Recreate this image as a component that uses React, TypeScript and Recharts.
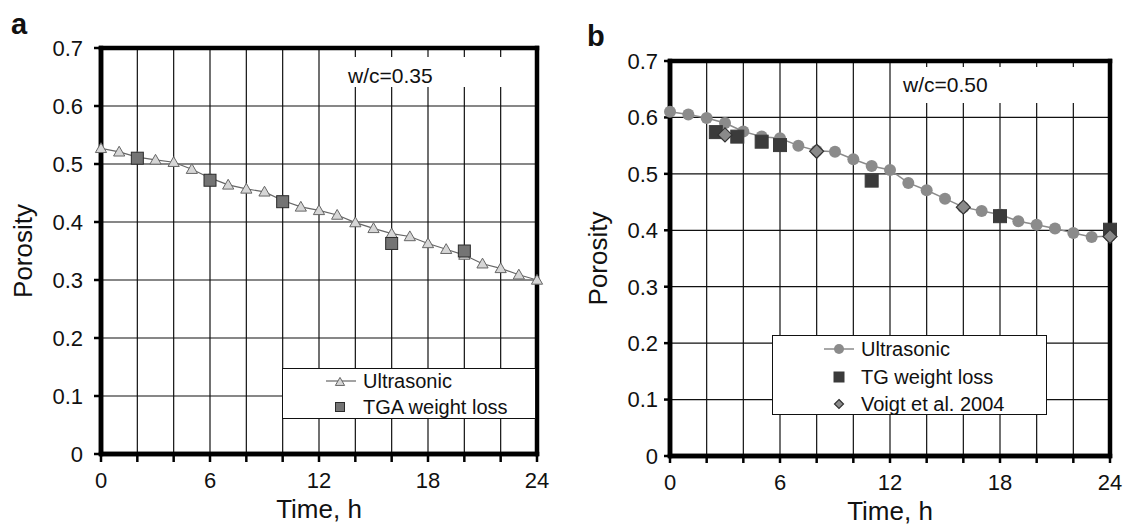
import React from "react";
import {
  CartesianGrid,
  Legend,
  ReferenceLine,
  Scatter,
  ScatterChart,
  XAxis,
  YAxis,
} from "recharts";

const FONT = '"Liberation Sans", Arial, Helvetica, sans-serif';

// ---- data ----
const hours = [0, 1, 2, 3, 4, 5, 6, 7, 8, 9, 10, 11, 12, 13, 14, 15, 16, 17, 18, 19, 20, 21, 22, 23, 24];

// panel a, w/c = 0.35
const ultrasonicA = [
  0.527, 0.521, 0.512, 0.507, 0.503, 0.491, 0.476, 0.464, 0.457, 0.452, 0.437, 0.426, 0.42,
  0.412, 0.399, 0.389, 0.38, 0.375, 0.363, 0.353, 0.343, 0.328, 0.32, 0.309, 0.3,
];
const tgaTimesA = [2, 6, 10, 16, 20];
const tgaValuesA = [0.51, 0.472, 0.435, 0.363, 0.35];

// panel b, w/c = 0.50
const ultrasonicB = [
  0.61, 0.605, 0.599, 0.59, 0.575, 0.566, 0.563, 0.55, 0.541, 0.539, 0.526, 0.514, 0.507,
  0.484, 0.471, 0.456, 0.441, 0.434, 0.428, 0.416, 0.41, 0.403, 0.395, 0.388, 0.39,
];
const tgTimesB = [2.5, 3.67, 5, 6, 11, 18, 24];
const tgValuesB = [0.574, 0.566, 0.557, 0.551, 0.488, 0.425, 0.401];
const voigtTimesB = [3, 8, 16, 24];
const voigtValuesB = [0.569, 0.54, 0.441, 0.389];

const xTicks = [0, 2, 4, 6, 8, 10, 12, 14, 16, 18, 20, 22, 24];
const yTicks = [0, 0.1, 0.2, 0.3, 0.4, 0.5, 0.6, 0.7];

const toPoints = (xs: number[], ys: number[]) => xs.map((t, i) => ({ t, p: ys[i] }));

// ---- marker shapes ----
const TriangleDot = ({ cx, cy, s = 5.6 }: any) => (
  <polygon
    points={`${cx},${cy - s} ${cx + s},${cy + s * 0.75} ${cx - s},${cy + s * 0.75}`}
    fill="#d6d6d6"
    stroke="#666"
    strokeWidth={1}
  />
);
const SquareDot = ({ cx, cy, s = 12, fill = "#747474", stroke = "#2b2b2b" }: any) => (
  <rect x={cx - s / 2} y={cy - s / 2} width={s} height={s} fill={fill} stroke={stroke} strokeWidth={1} />
);
const CircleDot = ({ cx, cy, r = 6 }: any) => <circle cx={cx} cy={cy} r={r} fill="#8b8b8b" />;
const DiamondDot = ({ cx, cy, s = 7 }: any) => (
  <polygon
    points={`${cx},${cy - s} ${cx + s},${cy} ${cx},${cy + s} ${cx - s},${cy}`}
    fill="#8a8a8a"
    stroke="#333"
    strokeWidth={1.2}
  />
);

const tickStyle = { fontSize: 22, fill: "#111", fontFamily: FONT };
const yFmt = (v: number) => (v === 0 ? "0" : v.toFixed(1));
const xFmt = (v: number) => (v % 6 === 0 ? String(v) : "");
const BORDER = 4.5;

function LegendA() {
  const row = (top: number, icon: React.ReactNode, text: string) => (
    <div style={{ position: "absolute", left: 0, top: top - 10, height: 20, width: "100%" }}>
      <svg width={40} height={20} style={{ position: "absolute", left: 38, top: 0 }}>
        {icon}
      </svg>
      <div style={{ position: "absolute", left: 80, top: 0, lineHeight: "20px", fontSize: 20, whiteSpace: "nowrap" }}>
        {text}
      </div>
    </div>
  );
  return (
    <div
      style={{
        position: "relative",
        width: 254,
        height: 51,
        border: "1.5px solid #111",
        background: "#fff",
        boxSizing: "border-box",
        fontFamily: FONT,
        color: "#111",
      }}
    >
      {row(
        12,
        <g>
          <line x1={5} y1={10} x2={35} y2={10} stroke="#666" strokeWidth={1.2} />
          <TriangleDot cx={19} cy={11} s={4.6} />
        </g>,
        "Ultrasonic"
      )}
      {row(38, <SquareDot cx={19} cy={10} s={9} />, "TGA weight loss")}
    </div>
  );
}

function LegendB() {
  const row = (top: number, icon: React.ReactNode, text: string) => (
    <div style={{ position: "absolute", left: 0, top: top - 10, height: 20, width: "100%" }}>
      <svg width={40} height={20} style={{ position: "absolute", left: 46, top: 0 }}>
        {icon}
      </svg>
      <div style={{ position: "absolute", left: 88, top: 0, lineHeight: "20px", fontSize: 20, whiteSpace: "nowrap" }}>
        {text}
      </div>
    </div>
  );
  return (
    <div
      style={{
        position: "relative",
        width: 275,
        height: 80,
        border: "1.5px solid #111",
        background: "#fff",
        boxSizing: "border-box",
        fontFamily: FONT,
        color: "#111",
      }}
    >
      {row(
        13,
        <g>
          <line x1={5} y1={10} x2={35} y2={10} stroke="#8b8b8b" strokeWidth={1.5} />
          <CircleDot cx={20} cy={10} r={5} />
        </g>,
        "Ultrasonic"
      )}
      {row(41, <SquareDot cx={20} cy={10} s={10} fill="#3b3b3b" stroke="#3b3b3b" />, "TG weight loss")}
      {row(68, <DiamondDot cx={20} cy={10} s={4.5} />, "Voigt et al. 2004")}
    </div>
  );
}

function axes(yWidth: number, xHeight: number, yTick: number, yMargin: number, xTick: number, xMargin: number, yLabelX: number, xLabelOff: number) {
  return [
    <XAxis
      key="x"
      type="number"
      dataKey="t"
      domain={[0, 24]}
      ticks={xTicks}
      interval={0}
      tickFormatter={xFmt}
      height={xHeight}
      tick={tickStyle}
      tickSize={xTick}
      tickMargin={xMargin}
      axisLine={{ stroke: "#000", strokeWidth: BORDER }}
      tickLine={{ stroke: "#000", strokeWidth: 2.5 }}
      label={{ value: "Time, h", position: "insideBottom", offset: xLabelOff, fontSize: 26, fill: "#111", fontFamily: FONT }}
    />,
    <YAxis
      key="y"
      type="number"
      dataKey="p"
      domain={[0, 0.7]}
      ticks={yTicks}
      interval={0}
      tickFormatter={yFmt}
      width={yWidth}
      tick={tickStyle}
      tickSize={yTick}
      tickMargin={yMargin}
      axisLine={{ stroke: "#000", strokeWidth: BORDER }}
      tickLine={{ stroke: "#000", strokeWidth: 2.5 }}
      label={{
        value: "Porosity",
        angle: -90,
        position: "insideLeft",
        offset: yLabelX,
        fontSize: 26,
        fill: "#111",
        fontFamily: FONT,
        style: { textAnchor: "middle" },
      }}
    />,
  ];
}

// thick frame around the plot area, drawn as four segments
const frameSides = [
  [{ x: 0, y: 0 }, { x: 24, y: 0 }],
  [{ x: 0, y: 0.7 }, { x: 24, y: 0.7 }],
  [{ x: 0, y: 0 }, { x: 0, y: 0.7 }],
  [{ x: 24, y: 0 }, { x: 24, y: 0.7 }],
];
const frame = () =>
  frameSides.map((seg, i) => (
    <ReferenceLine
      key={`f${i}`}
      segment={seg}
      ifOverflow="visible"
      stroke="#000"
      strokeWidth={BORDER}
      strokeLinecap="square"
    />
  ));

// backing frame (sits behind the svg so markers stay on top)
const backFrame = (left: number, top: number, w: number, h: number) => (
  <div
    style={{
      position: "absolute",
      left: left - BORDER / 2,
      top: top - BORDER / 2,
      width: w + BORDER,
      height: h + BORDER,
      border: `${BORDER}px solid #000`,
      boxSizing: "border-box",
    }}
  />
);

function PanelA() {
  return (
    <ScatterChart width={560} height={525} margin={{ top: 48, right: 23, left: 0, bottom: 0 }}>
      <CartesianGrid stroke="#111" strokeWidth={1.2} />
      {axes(101, 71, 7, 11, 8, 10, 23, 7)}
      {frame()}
      <Scatter
        name="Ultrasonic"
        data={toPoints(hours, ultrasonicA)}
        line={{ stroke: "#666", strokeWidth: 1.2 }}
        shape={(p: any) => <TriangleDot cx={p.cx} cy={p.cy} />}
        isAnimationActive={false}
      />
      <Scatter
        name="TGA weight loss"
        data={toPoints(tgaTimesA, tgaValuesA)}
        shape={(p: any) => <SquareDot cx={p.cx} cy={p.cy} />}
        isAnimationActive={false}
      />
      <Legend
        layout="horizontal"
        verticalAlign="middle"
        align="center"
        wrapperStyle={{ left: 282, top: 368, width: 254, height: 51 }}
        content={() => <LegendA />}
      />
    </ScatterChart>
  );
}

function PanelB() {
  return (
    <ScatterChart width={568} height={525} margin={{ top: 61, right: 18, left: 0, bottom: 0 }}>
      <CartesianGrid stroke="#111" strokeWidth={1.2} />
      {axes(110, 69, 6, 6, 7, 11, 38, 5)}
      {frame()}
      <Scatter
        name="Ultrasonic"
        data={toPoints(hours, ultrasonicB)}
        line={{ stroke: "#8b8b8b", strokeWidth: 1.5 }}
        shape={(p: any) => <CircleDot cx={p.cx} cy={p.cy} />}
        isAnimationActive={false}
      />
      <Scatter
        name="TG weight loss"
        data={toPoints(tgTimesB, tgValuesB)}
        shape={(p: any) => <SquareDot cx={p.cx} cy={p.cy} s={13} fill="#3b3b3b" stroke="#3b3b3b" />}
        isAnimationActive={false}
      />
      <Scatter
        name="Voigt et al. 2004"
        data={toPoints(voigtTimesB, voigtValuesB)}
        shape={(p: any) => <DiamondDot cx={p.cx} cy={p.cy} />}
        isAnimationActive={false}
      />
      <Legend
        layout="horizontal"
        verticalAlign="middle"
        align="center"
        wrapperStyle={{ left: 212, top: 335, width: 275, height: 80 }}
        content={() => <LegendB />}
      />
    </ScatterChart>
  );
}

const note = (left: number, top: number, w: number, h: number, textTop: number, text: string) => (
  <div style={{ position: "absolute", left, top, width: w, height: h, background: "#fff" }}>
    <div style={{ position: "absolute", left: 8, top: textTop, fontSize: 21, lineHeight: "21px", whiteSpace: "nowrap" }}>
      {text}
    </div>
  </div>
);

export default function App() {
  return (
    <div
      style={{
        position: "absolute",
        left: 0,
        top: 0,
        width: 1128,
        height: 525,
        background: "#fff",
        fontFamily: FONT,
        color: "#111",
        overflow: "hidden",
      }}
    >
      <div style={{ position: "absolute", left: 0, top: 0, width: 560, height: 525 }}>
        {backFrame(101, 48, 436, 406)}
        <PanelA />
      </div>
      <div style={{ position: "absolute", left: 560, top: 0, width: 568, height: 525 }}>
        {backFrame(110, 61, 440, 395)}
        <PanelB />
      </div>
      {note(340, 57, 192, 30, 8, "w/c=0.35")}
      {note(895, 67, 209, 36, 7, "w/c=0.50")}
      <div style={{ position: "absolute", left: 11, top: 10, fontSize: 29, lineHeight: "29px", fontWeight: 700 }}>a</div>
      <div style={{ position: "absolute", left: 587, top: 22, fontSize: 29, lineHeight: "29px", fontWeight: 700 }}>b</div>
    </div>
  );
}
